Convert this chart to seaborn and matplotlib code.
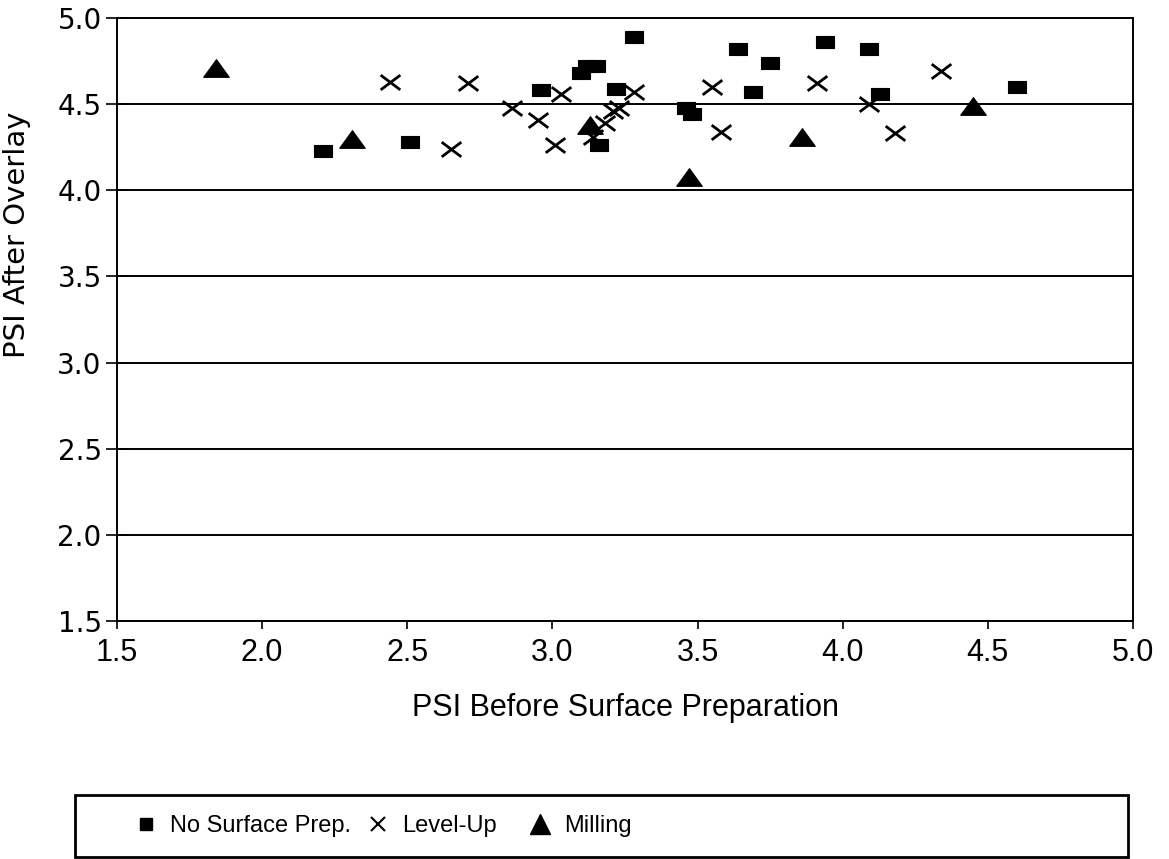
import numpy as np
import pandas as pd
import matplotlib
matplotlib.use("Agg")
import matplotlib.pyplot as plt
from matplotlib.path import Path
from matplotlib.lines import Line2D
from matplotlib.patches import Rectangle
import seaborn as sns

# ---- data ----
none_x = [2.21, 2.51, 2.96, 3.10, 3.12, 3.15, 3.16, 3.22, 3.28, 3.46, 3.48,
          3.64, 3.69, 3.75, 3.94, 4.09, 4.13, 4.60]
none_y = [4.23, 4.28, 4.58, 4.68, 4.72, 4.72, 4.26, 4.59, 4.89, 4.48, 4.44,
          4.82, 4.57, 4.74, 4.86, 4.82, 4.56, 4.60]

level_x = [2.44, 2.65, 2.71, 2.86, 2.95, 3.01, 3.03, 3.14, 3.18, 3.21, 3.23,
           3.28, 3.55, 3.58, 3.91, 4.09, 4.18, 4.34]
level_y = [4.63, 4.24, 4.62, 4.48, 4.41, 4.26, 4.56, 4.31, 4.39, 4.46, 4.48,
           4.57, 4.60, 4.34, 4.62, 4.50, 4.33, 4.69]

mill_x = [1.84, 2.31, 3.13, 3.47, 3.86, 4.45]
mill_y = [4.71, 4.30, 4.38, 4.08, 4.31, 4.49]

labels = ["No Surface Prep.", "Level-Up", "Milling"]
xticks = [1.5, 2.0, 2.5, 3.0, 3.5, 4.0, 4.5, 5.0]
yticks = [1.5, 2.0, 2.5, 3.0, 3.5, 4.0, 4.5, 5.0]

df = pd.concat([
    pd.DataFrame({"x": none_x, "y": none_y, "g": labels[0]}),
    pd.DataFrame({"x": level_x, "y": level_y, "g": labels[1]}),
    pd.DataFrame({"x": mill_x, "y": mill_y, "g": labels[2]}),
], ignore_index=True)

# ---- markers ----
sq_marker = [(-1, -0.75), (1, -0.75), (1, 0.75), (-1, 0.75), (-1, -0.75)]
tri_marker = [(-1, -0.69), (1, -0.69), (0, 0.69), (-1, -0.69)]
x_marker = Path([(-1, -0.75), (1, 0.75), (-1, 0.75), (1, -0.75)],
                [Path.MOVETO, Path.LINETO, Path.MOVETO, Path.LINETO])

sns.set_theme(style="white")
plt.rcParams["font.family"] = ["DejaVu Sans"]
for k in ["text.color", "axes.labelcolor", "xtick.color", "ytick.color",
          "axes.edgecolor"]:
    plt.rcParams[k] = "black"

fig = plt.figure(figsize=(11.69, 8.59), dpi=100)
ax = fig.add_axes([117 / 1169, 1 - 621 / 859, (1133 - 117) / 1169, (621 - 18) / 859])

# gridlines
ax.set_axisbelow(True)
ax.yaxis.grid(True, color="black", linewidth=1.4)
ax.xaxis.grid(False)

sns.scatterplot(data=df[df.g == labels[0]], x="x", y="y", marker=sq_marker,
                s=155, color="black", edgecolor="black", linewidth=0.8,
                ax=ax, legend=False, zorder=3)
sns.scatterplot(data=df[df.g == labels[1]], x="x", y="y", marker=x_marker,
                s=200, color="black", edgecolor="black", linewidth=2.0,
                ax=ax, legend=False, zorder=3)
sns.scatterplot(data=df[df.g == labels[2]], x="x", y="y", marker=tri_marker,
                s=340, color="black", edgecolor="black", linewidth=0.8,
                ax=ax, legend=False, zorder=3)

ax.set_xlim(1.5, 5.0)
ax.set_ylim(1.5, 5.0)
ax.set_xticks(xticks)
ax.set_yticks(yticks)
ax.set_xticklabels([f"{v:.1f}" for v in xticks], fontfamily="Liberation Sans",
                   fontsize=22)
ax.set_yticklabels([f"{v:.1f}" for v in yticks], fontfamily="DejaVu Sans",
                   fontsize=20)
ax.tick_params(axis="x", direction="out", length=6, width=1.2, color="black",
               pad=6, bottom=True, labelcolor="black")
ax.tick_params(axis="y", direction="inout", length=16, width=1.2,
               color="black", pad=3, left=True, labelcolor="black")

for sp in ax.spines.values():
    sp.set_color("black")
    sp.set_linewidth(1.4)
    sp.set_visible(True)

ax.set_xlabel("PSI Before Surface Preparation", fontfamily="Liberation Sans",
              fontsize=22, color="black")
ax.set_ylabel("PSI After Overlay", fontfamily="DejaVu Sans", fontsize=21,
              color="black")
ax.xaxis.set_label_coords(0.5, -0.12)
ax.yaxis.set_label_coords(-0.085, 0.64)

# ---- legend box ----
box = Rectangle((75 / 1169, 2 / 859), (1128 - 75) / 1169, (857 - 795) / 859,
                transform=fig.transFigure, fill=False, edgecolor="black",
                linewidth=2.0)
fig.add_artist(box)

handles = [
    Line2D([], [], linestyle="none", marker="s", markersize=8,
           color="black"),
    Line2D([], [], linestyle="none", marker="x", markersize=10,
           markeredgewidth=1.5, color="black"),
    Line2D([], [], linestyle="none", marker="^", markersize=14,
           color="black"),
]
leg_x = [130.7 / 1169, 362.7 / 1169, 525.0 / 1169]
for h, lab, lx in zip(handles, labels, leg_x):
    fig.legend(handles=[h], labels=[lab], loc="center left",
               bbox_to_anchor=(lx, 1 - 826 / 859), frameon=False,
               handlelength=1.3, handletextpad=0.35, borderpad=0,
               borderaxespad=0, labelcolor="black",
               prop={"family": "Liberation Sans", "size": 17})

fig.savefig("out.png", dpi=100)
